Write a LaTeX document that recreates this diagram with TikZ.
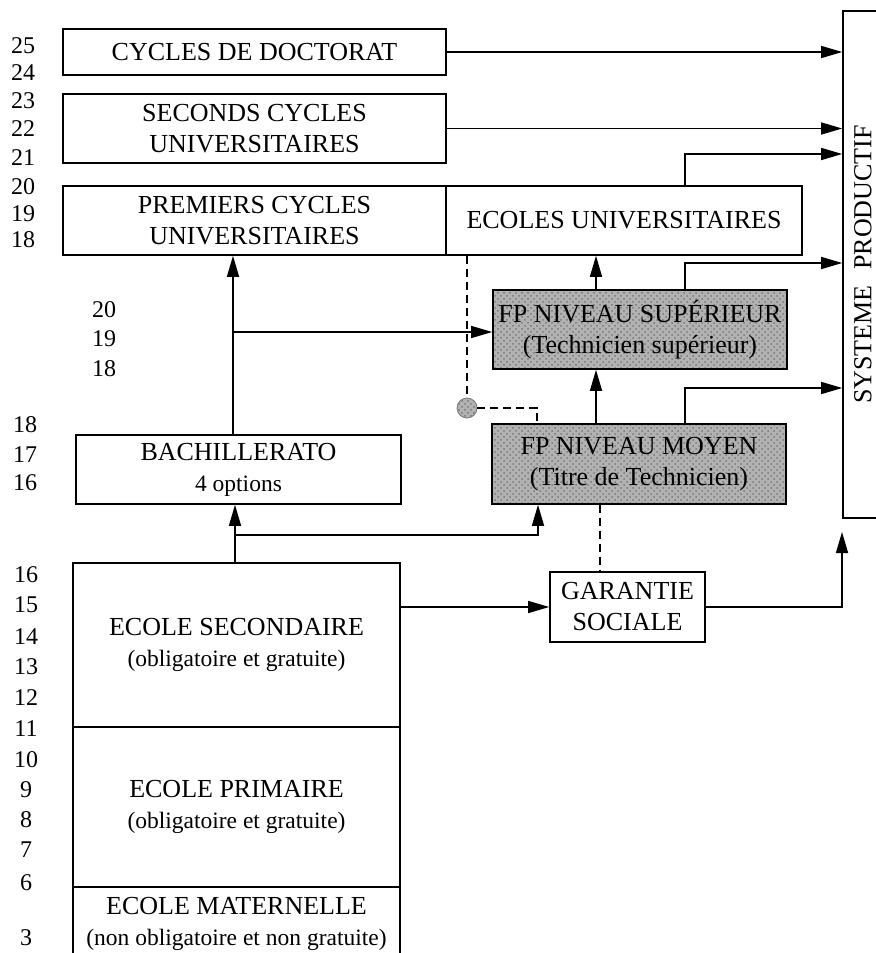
\documentclass[tikz,border=0pt]{standalone}
\usepackage{fontspec}
\setmainfont{Liberation Serif}
\usepackage{tikz}
\usetikzlibrary{calc, positioning, arrows.meta, patterns}
\usepackage{xcolor}
\definecolor{fpgray}{RGB}{178, 178, 178}
\definecolor{dotgray}{RGB}{120, 120, 120}
\newcommand{\biglab}{\fontsize{13}{15.5}\selectfont}
\newcommand{\sublab}{\fontsize{11.75}{15.5}\selectfont}
\newcommand{\numlab}{\fontsize{12}{14}\selectfont}
\tikzset{
  box/.style={draw, line width=0.8pt, inner sep=0pt, align=center, font=\biglab},
  fpbox/.style={box, preaction={fill=fpgray}, pattern=crosshatch dots, pattern color=dotgray},
  arr/.style={-{Triangle[length=10.5pt, width=6pt]}, line width=0.7pt},
  dashln/.style={dash pattern=on 4pt off 2.5pt, line width=0.6pt},
  num/.style={font=\numlab, inner sep=0pt},
}

\begin{document}
\begin{tikzpicture}[x=0.5pt, y=-0.5pt]
  \useasboundingbox (0,0) rectangle (876,953);
  \clip (0,0) rectangle (876,953);

  % Ages
  \foreach \y/\n in {46/25, 73/24, 101/23, 129/22, 158/21, 187/20, 214/19, 240/18}
    \node[num] (a\n) at (23,\y) {\n};
  \foreach \y/\n in {310/20, 339/19, 369/18}
    \node[num] (b\n) at (104,\y) {\n};
  \foreach \y/\n in {425/18, 455/17, 483/16}
    \node[num] (c\n) at (25,\y) {\n};
  \foreach \y/\n in {575/16, 605/15, 637/14, 667/13, 698/12, 729/11, 760/10, 790/9, 820/8, 850/7, 883/6, 938/3}
    \node[num] (d\n) at (26,\y) {\n};

  % University
  \node[box, minimum width=191.5pt, minimum height=23pt] (doct) at (254.5,52) {CYCLES DE DOCTORAT};
  \node[box, minimum width=191.5pt, minimum height=34.5pt] (second) at (254.5,128.5) {SECONDS CYCLES\\UNIVERSITAIRES};
  \node[box, minimum width=191.5pt, minimum height=34.5pt] (premier) at (254.5,220.5) {PREMIERS CYCLES\\UNIVERSITAIRES};
  \node[box, minimum width=178pt, minimum height=34.5pt] (ecoles) at (624,220.5) {ECOLES UNIVERSITAIRES};

  % Vocational training
  \node[fpbox, minimum width=147pt, minimum height=39.5pt] (fpsup) at (640,329.5) {FP NIVEAU SUPÉRIEUR\\(Technicien supérieur)};
  \node[fpbox, minimum width=147pt, minimum height=40pt] (fpmoy) at (639,464) {FP NIVEAU MOYEN\\(Titre de Technicien)};
  \node[draw=dotgray, line width=0.4pt, circle, minimum size=10pt, inner sep=0pt,
        preaction={fill=fpgray}, pattern=crosshatch dots, pattern color=dotgray] (ctr) at (467,408) {};

  % School
  \node[box, minimum width=162.5pt, minimum height=34.5pt] (bach) at (238.5,469.5) {BACHILLERATO\\{\sublab 4 options}};
  \node[box, minimum width=163.5pt, minimum height=82pt] (secondaire) at (236.5,645) {ECOLE SECONDAIRE\\{\sublab (obligatoire et gratuite)}};
  \node[box, minimum width=163.5pt, minimum height=80pt] (primaire) at (236.5,807) {ECOLE PRIMAIRE\\{\sublab (obligatoire et gratuite)}};
  \node[box, minimum width=163.5pt, minimum height=36.5pt] (maternelle) at (236.5,923.5) {ECOLE MATERNELLE\\{\sublab (non obligatoire et non gratuite)}};
  \node[box, minimum width=77.5pt, minimum height=35pt] (garantie) at (627.5,607) {GARANTIE\\SOCIALE};

  % Productive system
  \node[box, minimum width=20pt, minimum height=253.5pt] (sys) at (863,264.5) {\rotatebox{90}{SYSTEME\hspace{0.6em}PRODUCTIF}};

  % Helper lines
  \coordinate (xB) at (233,0);
  \coordinate (xS) at (235,0);
  \coordinate (xV) at (596,0);
  \coordinate (xR) at (685,0);
  \coordinate (xM) at (538,0);
  \coordinate (xT) at (537,0);
  \coordinate (xG) at (600,0);
  \coordinate (xP) at (842,0);
  \coordinate (yE) at (0,154);
  \coordinate (yS) at (0,263);
  \coordinate (yM) at (0,388);
  \coordinate (yB) at (0,332);
  \coordinate (yL) at (0,535);
  \coordinate (yP) at (0,532);

  % Arrows
  \draw[arr] (xB |- bach.north) -- (xB |- premier.south);
  \draw[arr] (xB |- yB) -- (fpsup.west |- yB);
  \draw[arr] (xS |- secondaire.north) -- (xS |- bach.south);
  \draw[arr] (xS |- yL) -| (xM |- fpmoy.south);
  \draw[arr] (xV |- fpmoy.north) -- (xV |- fpsup.south);
  \draw[arr] (xV |- fpsup.north) -- (xV |- ecoles.south);
  \draw[arr] (doct.east) -- (doct.east -| sys.west);
  \draw[arr] (second.east) -- (second.east -| sys.west);
  \draw[arr] (xR |- ecoles.north) |- (sys.west |- yE);
  \draw[arr] (xR |- fpsup.north) |- (sys.west |- yS);
  \draw[arr] (xR |- fpmoy.north) |- (sys.west |- yM);
  \draw[arr] (secondaire.east |- garantie.west) -- (garantie.west);
  \draw[arr] (garantie.east) -| (xP |- yP);

  % Dashed links
  \draw[dashln] (ctr.north |- ecoles.south) -- (ctr.north);
  \draw[dashln] (ctr.east) -| (xT |- fpmoy.north);
  \draw[dashln] (xG |- fpmoy.south) -- (xG |- garantie.north);
\end{tikzpicture}
\end{document}
